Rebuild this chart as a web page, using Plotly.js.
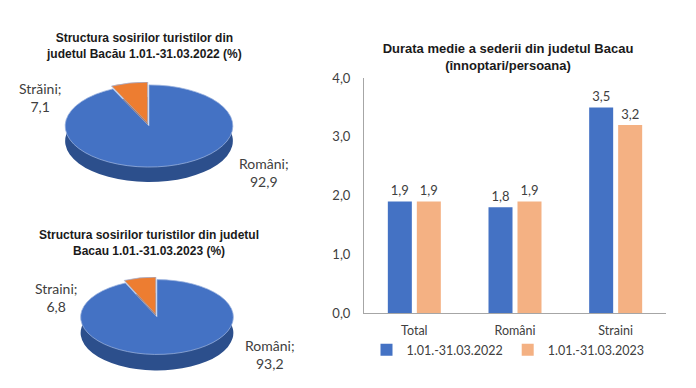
<!DOCTYPE html>
<html><head><meta charset="utf-8">
<script src="https://cdn.plot.ly/plotly-3.0.1.min.js"></script>
<style>
html,body{margin:0;padding:0;background:#fff;}
#wrap{position:relative;width:696px;height:388px;overflow:hidden;}
#main{position:absolute;left:0;top:0;width:696px;height:388px;}
.pie{position:absolute;transform-origin:0 0;}
</style></head>
<body><div id="wrap"><div id="main"></div><div id="pie1" class="pie"></div><div id="pie2" class="pie"></div></div>
<script>
// ---- data ----
const pieLabels2022 = ['Români', 'Străini'];
const pieValues2022 = [92.9, 7.1];
const pieLabels2023 = ['Români', 'Straini'];
const pieValues2023 = [93.2, 6.8];
const pieTitle2022 = 'Structura sosirilor turistilor din<br>judetul Bacău 1.01.-31.03.2022 (%)';
const pieTitle2023 = 'Structura sosirilor turistilor din judetul<br>Bacau 1.01.-31.03.2023 (%)';

const barCategories = ['Total', 'Români', 'Straini'];
const series2022 = [1.9, 1.8, 3.5];
const series2023 = [1.9, 1.9, 3.2];
const seriesNames = ['1.01.-31.03.2022', '1.01.-31.03.2023'];
const barTitle = 'Durata medie a sederii din judetul Bacau<br>(înnoptari/persoana)';
const yTicks = [0, 1, 2, 3, 4];

// ---- styles ----
const BLUE = '#4472C4', ORANGE = '#ED7D31', LORANGE = '#F4B183';
const BLUE_SIDE = '#2C4F8C', ORANGE_SIDE = '#B35A1E';
const txtFont = 'Lato, "Open Sans", sans-serif';
const titleFont = '"Liberation Sans", Arial, sans-serif';
const fmt = v => v.toFixed(1).replace('.', ',');

// ---- main figure (bars + texts) ----
const W = 696, H = 388;
const px = x => x / W, py = y => (H - y) / H;

const bars = [
  {type:'bar', name: seriesNames[0], x: barCategories, y: series2022, marker:{color: BLUE},
   text: series2022.map(fmt), textposition:'outside', textfont:{family: txtFont, size:13, color:'#404040'}, cliponaxis:false},
  {type:'bar', name: seriesNames[1], x: barCategories, y: series2023, marker:{color: LORANGE},
   text: series2023.map(fmt), textposition:'outside', textfont:{family: txtFont, size:13, color:'#404040'}, cliponaxis:false}
];

const pieLabelText = (labels, values, i) => labels[i] + ';<br>' + fmt(values[i]);

const annotations = [
  {text:'<b>'+pieTitle2022+'</b>', x:px(144), y:py(46), xref:'paper', yref:'paper', showarrow:false, xanchor:'center', yanchor:'middle', font:{family:titleFont, size:12, color:'#1a1a1a'}},
  {text:'<b>'+pieTitle2023+'</b>', x:px(149), y:py(243), xref:'paper', yref:'paper', showarrow:false, xanchor:'center', yanchor:'middle', font:{family:titleFont, size:12, color:'#1a1a1a'}},
  {text: pieLabelText(pieLabels2022, pieValues2022, 1), x:px(40), y:py(97), xref:'paper', yref:'paper', showarrow:false, xanchor:'center', yanchor:'middle', font:{family:txtFont, size:14, color:'#404040'}},
  {text: pieLabelText(pieLabels2022, pieValues2022, 0), x:px(264), y:py(172), xref:'paper', yref:'paper', showarrow:false, xanchor:'center', yanchor:'middle', font:{family:txtFont, size:14, color:'#404040'}},
  {text: pieLabelText(pieLabels2023, pieValues2023, 1), x:px(56), y:py(297), xref:'paper', yref:'paper', showarrow:false, xanchor:'center', yanchor:'middle', font:{family:txtFont, size:14, color:'#404040'}},
  {text: pieLabelText(pieLabels2023, pieValues2023, 0), x:px(270), y:py(354), xref:'paper', yref:'paper', showarrow:false, xanchor:'center', yanchor:'middle', font:{family:txtFont, size:14, color:'#404040'}}
];

const layout = {
  width: W, height: H, margin:{l:0,r:0,t:0,b:0}, paper_bgcolor:'#fff', plot_bgcolor:'#fff',
  separators: ',.',
  barmode:'group', bargap:0.424, bargroupgap:0.172,
  title:{text:'<b>'+barTitle+'</b>', x:px(508), y:py(53), xanchor:'center', yanchor:'middle', xref:'paper', yref:'paper',
         font:{family:titleFont, size:13, color:'#1a1a1a'}},
  xaxis:{domain:[px(364), px(666)], showline:true, linecolor:'#A6A6A6', linewidth:1, ticks:'', showgrid:false,
         tickfont:{family:txtFont, size:12.5, color:'#404040'}, ticklabelstandoff:6, fixedrange:true},
  yaxis:{domain:[py(313), py(78)], range:[0,4], tickvals: yTicks, tickformat:'.1f', showline:true, linecolor:'#A6A6A6', linewidth:1,
         ticks:'', showgrid:false, zeroline:false, tickfont:{family:txtFont, size:13, color:'#404040'}, ticklabelstandoff:10},
  showlegend:true,
  legend:{orientation:'h', x:px(508), y:py(350), xanchor:'center', yanchor:'middle', font:{family:txtFont, size:12.5, color:'#404040'},
          tracegroupgap:0},
  annotations: annotations
};
Plotly.newPlot('main', bars, layout, {staticPlot:true});

// ---- pseudo-3D pies: flat pie traces squashed vertically, with a darker copy beneath ----
function drawPie(id, labels, values, cx, cy, rx, ratio, thick, pull) {
  const half = rx * (1 + pull);
  const side = 2 * half;
  const t = thick / ratio;
  const h = side + t;
  const el = document.getElementById(id);
  el.style.width = side + 'px';
  el.style.height = h + 'px';
  el.style.left = (cx - half) + 'px';
  el.style.top = (cy - half * ratio) + 'px';
  el.style.transform = 'scaleY(' + ratio + ')';
  const pulls = values.map((v, i) => i === 1 ? pull : 0);
  const common = {type:'pie', labels: labels, values: values, sort:false, direction:'clockwise', rotation:0,
                  textinfo:'none', hoverinfo:'skip', pull: pulls, showlegend:false};
  const traces = [
    Object.assign({}, common, {domain:{x:[0,1], y:[0, side / h]}, marker:{colors:[BLUE_SIDE, ORANGE_SIDE], line:{width:0}}}),
    Object.assign({}, common, {domain:{x:[0,1], y:[t / h, 1]}, marker:{colors:[BLUE, ORANGE], line:{color:'#9DB3DE', width:1}}})
  ];
  Plotly.newPlot(id, traces, {width: side, height: h, margin:{l:0,r:0,t:0,b:0}, paper_bgcolor:'rgba(0,0,0,0)', plot_bgcolor:'rgba(0,0,0,0)', showlegend:false}, {staticPlot:true});
}
drawPie('pie1', pieLabels2022, pieValues2022, 149, 126, 84, 0.49, 15, 0.07);
drawPie('pie2', pieLabels2023, pieValues2023, 156.5, 317.5, 76.5, 0.49, 16, 0.07);
</script></body></html>
